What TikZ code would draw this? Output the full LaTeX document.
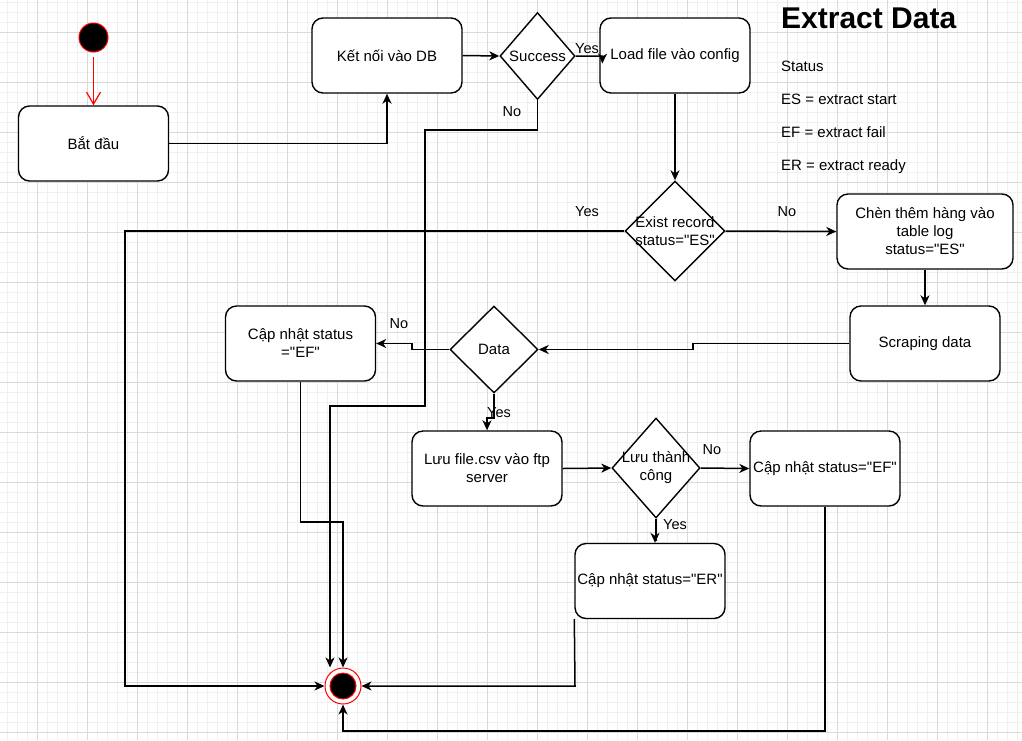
\documentclass[tikz,border=0pt]{standalone}
\usepackage{fontspec}
\setmainfont{Liberation Sans}
\newfontfamily\arial{Liberation Sans}
\usetikzlibrary{arrows.meta,shapes.geometric}
\definecolor{minorgrid}{RGB}{240,240,240}
\definecolor{majorgrid}{RGB}{218,218,218}
\begin{document}
\begin{tikzpicture}[x=1pt,y=-1pt,
  box/.style={draw=black, line width=1.4pt, rounded corners=11pt, fill=white, minimum width=150pt, minimum height=75pt, inner sep=0pt, align=center, font=\arial\fontsize{15}{18}\selectfont},
  dia/.style={draw=black, line width=1.4pt, diamond, fill=white, inner sep=0pt},
  txt/.style={align=center, font=\arial\fontsize{15}{18}\selectfont, inner sep=0pt},
  lbl/.style={font=\arial\fontsize{14.5}{17}\selectfont, inner sep=0pt},
  side/.style={anchor=base west, font=\arial\fontsize{15}{18}\selectfont, inner sep=0pt},
  conn/.style={line width=1.5pt, -{Stealth[length=10pt,width=9pt,inset=3pt]}},
]
\useasboundingbox (0,0) rectangle (1022,740);
\fill[white] (0,0) rectangle (1022,740);
\foreach \x in {7,17,...,1017} \draw[minorgrid, line width=0.8pt] (\x,0) -- (\x,740);
\foreach \y in {2,12,...,732} \draw[minorgrid, line width=0.8pt] (0,\y) -- (1022,\y);
\foreach \x in {37,87,...,987} \draw[majorgrid, line width=0.8pt] (\x,0) -- (\x,740);
\foreach \y in {32,82,...,732} \draw[majorgrid, line width=0.8pt] (0,\y) -- (1022,\y);

% nodes
\node[circle, fill=black, draw=red, line width=1pt, minimum size=29pt, inner sep=0pt] (init) at (93.5,37.5) {};
\node[box] (bd) at (93.5,143.5) {Bắt đầu};
\node[box] (kn) at (387,55.5) {Kết nối vào DB};
\node[dia, minimum width=75pt, minimum height=87pt] (succ) at (537.5,56) {};
\node[txt] (succt) at (succ) {Success};
\node[box] (load) at (675,55.5) {Load file vào config};
\node[dia, minimum width=100pt, minimum height=100pt] (exist) at (675,231) {};
\node[txt] (existt) at (exist) {Exist record\\status="ES"};
\node[box, minimum width=176pt] (chen) at (925,231.5) {Chèn thêm hàng vào\\table log\\status="ES"};
\node[box] (scrap) at (925,343.5) {Scraping data};
\node[dia, minimum width=88pt, minimum height=87pt] (data) at (494,349.5) {};
\node[txt] (datat) at (data) {Data};
\node[box] (ef1) at (300.5,343.5) {Cập nhật status\\="EF"};
\node[box] (luu) at (487,468.5) {Lưu file.csv vào ftp\\server};
\node[dia, minimum width=88pt, minimum height=100pt] (ltc) at (656,468) {};
\node[txt] (ltct) at (ltc) {Lưu thành\\công};
\node[box] (ef2) at (825,468.5) {Cập nhật status="EF"};
\node[box] (er) at (650,581) {Cập nhật status="ER"};
\node[circle, draw=red, fill=white, line width=1pt, minimum size=36pt, inner sep=0pt] (fin) at (343,686) {};
\node[circle, draw=red, fill=black, line width=1pt, minimum size=26pt, inner sep=0pt] (finin) at (fin) {};

% legend
\node[side, font=\arial\fontsize{30}{36}\selectfont\bfseries] (title) at (781,28.5) {Extract Data};
\node[side] (st) at (781,71.5) {Status};
\node[side] (es) at (781,104.5) {ES = extract start};
\node[side] (ef) at (781,137.5) {EF = extract fail};
\node[side] (er2) at (781,170.5) {ER = extract ready};

% connectors
\draw[red, line width=1.2pt, shorten <=4pt, -{Straight Barb[length=12pt,width=14pt]}] (init) -- (bd);
\draw[conn] (bd.east) -| (kn.south);
\draw[conn] (kn.east) -- (succ.west);
\draw[conn] (succ.east) -- (602.5,56) -- ([xshift=3pt,yshift=-8pt]load.west);
\draw[conn] (succ.south) -- (537.5,130) -- (425,130) -- (425,406) -- (330,406) -- ([xshift=-13pt]fin.north);
\draw[conn] (load.south) -- (exist.north);
\draw[conn] (exist.west) -- (125,231) -- (125,686) -- (fin.west);
\draw[conn] (exist.east) -- (chen.west);
\draw[conn] (chen.south) -- (scrap.north);
\draw[conn] (scrap.west) -- (693,343.5) -- (693,349.5) -- (data.east);
\draw[conn] (data.west) -- (412,349.5) -- (412,343.5) -- (ef1.east);
\draw[conn] (ef1.south) -- (300.5,522) -- (343,522) -- (fin.north);
\draw[conn] (data.south) -- (494,418) -- (487,418) -- (luu.north);
\draw[conn] (luu.east) -- (ltc.west);
\draw[conn] (ltc.east) -- (ef2.west);
\draw[conn] (ltc.south) -- (656,540) -- (655,540) -- ([xshift=5pt]er.north);
\draw[conn] (er.south west) -- (575,686) -- (fin.east);
\draw[conn] (ef2.south) -- (825,731) -- (343,731) -- (fin.south);

% edge labels
\node[lbl] (l1) at (587,49) {Yes};
\node[lbl] (l2) at (512,112) {No};
\node[lbl] (l3) at (587,212) {Yes};
\node[lbl] (l4) at (787,212) {No};
\node[lbl] (l5) at (399,324) {No};
\node[lbl] (l6) at (499,413) {Yes};
\node[lbl] (l7) at (712,450) {No};
\node[lbl] (l8) at (675,525) {Yes};
\end{tikzpicture}
\end{document}
